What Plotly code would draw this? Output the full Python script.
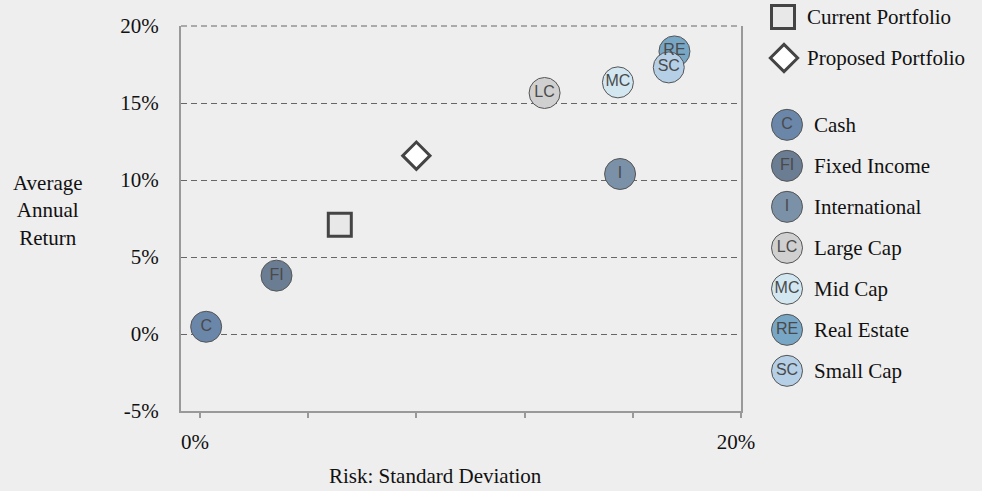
import plotly.graph_objects as go

# Asset classes: risk (std dev, %) vs average annual return (%)
asset_names = ["Cash", "Fixed Income", "International", "Large Cap", "Mid Cap", "Real Estate", "Small Cap"]
asset_codes = ["C", "FI", "I", "LC", "MC", "RE", "SC"]
asset_risk = [0.23, 2.83, 15.53, 12.74, 15.45, 17.54, 17.33]
asset_return = [0.47, 3.79, 10.39, 15.65, 16.34, 18.35, 17.31]
asset_colors = ["#6a86a8", "#6a7d93", "#7a91a8", "#d0d0d0", "#d3e7f1", "#78a6c5", "#b5cfe6"]

# Portfolios
portfolio_names = ["Current Portfolio", "Proposed Portfolio"]
portfolio_risk = [5.17, 8.0]
portfolio_return = [7.1, 11.58]

# Axis ticks
y_ticks = [-5, 0, 5, 10, 15, 20]
y_ticklabels = ["-5%", "0%", "5%", "10%", "15%", "20%"]
x_ticks = [0, 4, 8, 12, 16, 20]
x_ticklabels = ["0%", "", "", "", "", "20%"]

W, H = 982, 491
BG = "#eeeeee"
SERIF = "Liberation Serif, Times New Roman, serif"
SANS = "Liberation Sans, Arial, sans-serif"
TEXT = "#111111"
GRID = "#666666"
AXIS = "#999999"

# Plot area in pixels
PL, PR, PT, PB = 181, 741, 26, 411

fig = go.Figure()

# Portfolio markers
fig.add_trace(go.Scatter(
    x=[portfolio_risk[0]], y=[portfolio_return[0]], mode="markers",
    marker=dict(symbol="square", size=23, color="#e8e8e8",
                line=dict(color="#444444", width=3)),
    showlegend=False, hoverinfo="skip"))
fig.add_trace(go.Scatter(
    x=[portfolio_risk[1]], y=[portfolio_return[1]], mode="markers",
    marker=dict(symbol="diamond", size=21, color="#ffffff",
                line=dict(color="#444444", width=3)),
    showlegend=False, hoverinfo="skip"))

# Asset class bubbles with their codes inside
code_font = dict(family=SANS, size=16, color="#4a4a4a")
fig.add_trace(go.Scatter(
    x=asset_risk, y=asset_return, mode="markers+text",
    text=asset_codes, textposition="middle center", textfont=code_font,
    marker=dict(symbol="circle", size=31, color=asset_colors,
                line=dict(color="#555555", width=1)),
    showlegend=False, hoverinfo="skip"))

# ---- Custom legend drawn on its own hidden axes ----
ROW_PX = 41.0
ROW0_PX = 17.0
legend_rows_port = [0, 1]
asset_row_start = 2.63
legend_rows_asset = [asset_row_start + i for i in range(len(asset_names))]

fig.add_trace(go.Scatter(
    x=[23], y=[legend_rows_port[0]], xaxis="x2", yaxis="y2", mode="markers",
    marker=dict(symbol="square", size=23, color="#e8e8e8",
                line=dict(color="#444444", width=3)),
    showlegend=False, hoverinfo="skip"))
fig.add_trace(go.Scatter(
    x=[24], y=[legend_rows_port[1]], xaxis="x2", yaxis="y2", mode="markers",
    marker=dict(symbol="diamond", size=21, color="#ffffff",
                line=dict(color="#444444", width=3)),
    showlegend=False, hoverinfo="skip"))
fig.add_trace(go.Scatter(
    x=[27] * len(asset_codes), y=legend_rows_asset, xaxis="x2", yaxis="y2",
    mode="markers+text", text=asset_codes, textposition="middle center",
    textfont=code_font,
    marker=dict(symbol="circle", size=31, color=asset_colors,
                line=dict(color="#555555", width=1)),
    showlegend=False, hoverinfo="skip"))

annotations = []
for name, row in zip(portfolio_names, legend_rows_port):
    annotations.append(dict(x=45, y=row, xref="x2", yref="y2", text=name,
                            showarrow=False, xanchor="left", yanchor="middle",
                            font=dict(family=SERIF, size=21, color=TEXT)))
for name, row in zip(asset_names, legend_rows_asset):
    annotations.append(dict(x=52, y=row, xref="x2", yref="y2", text=name,
                            showarrow=False, xanchor="left", yanchor="middle",
                            font=dict(family=SERIF, size=21, color=TEXT)))

# Axis titles
annotations.append(dict(x=48 / W, y=1 - 210 / H, xref="paper", yref="paper",
                        text="Average<br>Annual<br>Return", showarrow=False,
                        xanchor="center", yanchor="middle", align="center",
                        font=dict(family=SERIF, size=21, color=TEXT)))
annotations.append(dict(x=435 / W, y=1 - 476 / H, xref="paper", yref="paper",
                        text="Risk: Standard Deviation", showarrow=False,
                        xanchor="center", yanchor="middle",
                        font=dict(family=SERIF, size=21, color=TEXT)))

# Dashed gridline along the top edge of the plot area (not clipped)
shapes = [dict(type="line", xref="paper", yref="paper",
               x0=PL / W, x1=PR / W, y0=1 - PT / H, y1=1 - PT / H,
               line=dict(color=GRID, width=1, dash="6px,4px"), layer="above")]

fig.update_layout(
    width=W, height=H,
    margin=dict(l=0, r=0, t=0, b=0, autoexpand=False),
    paper_bgcolor=BG, plot_bgcolor=BG,
    showlegend=False,
    font=dict(family=SERIF, size=21, color=TEXT),
    xaxis=dict(
        domain=[PL / W, PR / W], range=[-0.7, 20],
        tickvals=x_ticks, ticktext=x_ticklabels,
        ticks="outside", ticklen=5, tickwidth=2, tickcolor=AXIS,
        showline=True, linecolor=AXIS, linewidth=2,
        showgrid=False, zeroline=False, ticklabelstandoff=6,
        ticklabelshift=-5,
        tickfont=dict(family=SERIF, size=21, color=TEXT),
        automargin=False,
    ),
    yaxis=dict(
        domain=[1 - PB / H, 1 - PT / H], range=[-5, 20],
        tickvals=y_ticks, ticktext=y_ticklabels,
        ticks="", showline=True, mirror=True, linecolor=AXIS, linewidth=2,
        showgrid=True, gridcolor=GRID, gridwidth=1, griddash="6px,4px",
        zeroline=False, ticklabelstandoff=16,
        tickfont=dict(family=SERIF, size=21, color=TEXT),
        automargin=False,
    ),
    xaxis2=dict(domain=[760 / W, 1], range=[0, W - 760], visible=False,
                anchor="y2", fixedrange=True),
    yaxis2=dict(domain=[0, 1],
                range=[(H - ROW0_PX) / ROW_PX, -ROW0_PX / ROW_PX],
                visible=False, anchor="x2", fixedrange=True),
    annotations=annotations,
    shapes=shapes,
)

fig.write_html("out.html")
